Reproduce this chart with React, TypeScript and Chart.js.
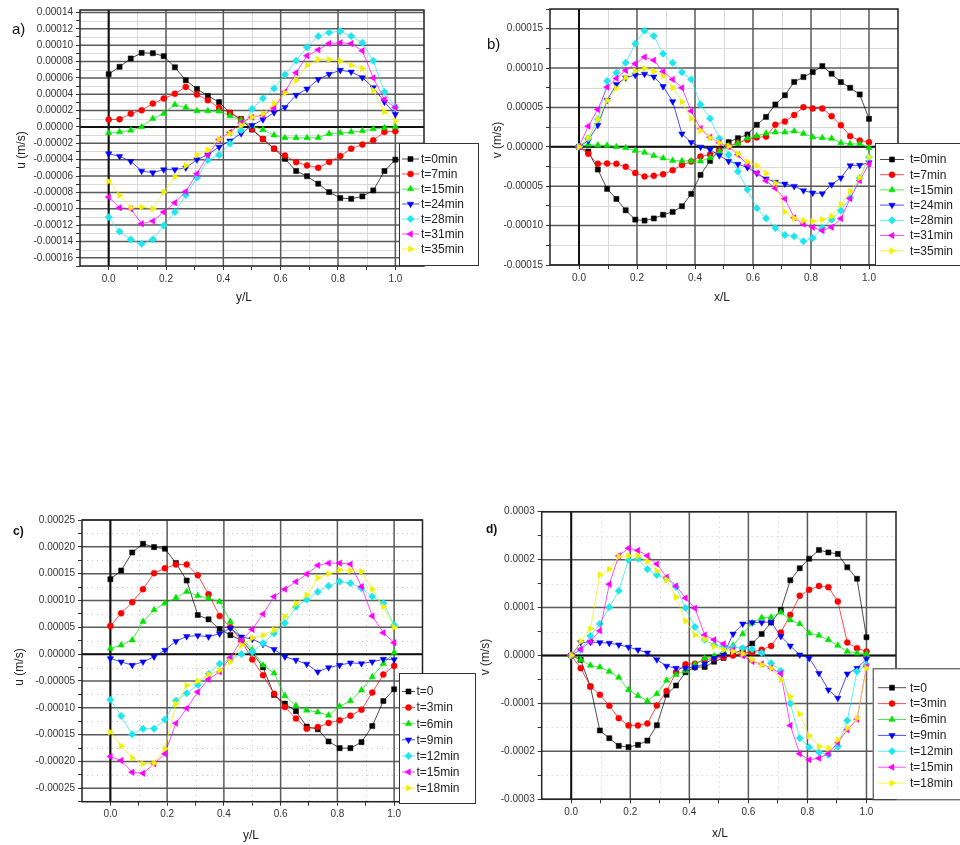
import React, { useEffect, useRef } from 'react';
import { Chart, registerables } from 'chart.js';

Chart.register(...registerables);

// All series values are in units of 1e-5 m/s
const UNIT = 1e-5;

// sample positions (x/L or y/L)
const X27 = [0, 0.038, 0.077, 0.115, 0.154, 0.192, 0.231, 0.269, 0.308, 0.346, 0.385, 0.423, 0.462, 0.5,
  0.538, 0.577, 0.615, 0.654, 0.692, 0.731, 0.769, 0.808, 0.846, 0.885, 0.923, 0.962, 1.0];
const X32 = [0, 0.032, 0.065, 0.097, 0.129, 0.161, 0.194, 0.226, 0.258, 0.29, 0.323, 0.355, 0.387, 0.419,
  0.452, 0.484, 0.516, 0.548, 0.581, 0.613, 0.645, 0.677, 0.71, 0.742, 0.774, 0.806, 0.839, 0.871, 0.903,
  0.935, 0.968, 1.0];

const AB_LABELS = ['t=0min', 't=7min', 't=15min', 't=24min', 't=28min', 't=31min', 't=35min'];
const CD_LABELS = ['t=0', 't=3min', 't=6min', 't=9min', 't=12min', 't=15min', 't=18min'];

// ---- panel a) u (m/s) vs y/L
const A_T0 = [6.45, 7.35, 8.37, 9.06, 9.02, 8.65, 7.3, 5.71, 4.65, 3.8, 3.04, 1.74, 0.98, -0.32, -1.47, -2.65, -3.9, -5.38, -6.02, -6.94, -7.96, -8.69, -8.78, -8.49, -7.76, -5.39, -4.0];
const A_T7 = [0.9, 0.94, 1.63, 2.04, 2.86, 3.47, 4.05, 4.9, 3.96, 3.27, 2.35, 1.72, 0.9, -0.24, -1.47, -2.65, -3.5, -4.3, -4.7, -5.0, -4.29, -3.55, -2.65, -2.16, -1.63, -0.61, -0.53];
const A_T15 = [-0.73, -0.61, -0.41, 0, 1.02, 1.63, 2.73, 2.37, 1.96, 1.96, 1.92, 1.35, 0.82, 0.1, -0.35, -1.0, -1.33, -1.33, -1.33, -1.31, -0.82, -0.73, -0.61, -0.49, -0.25, -0.1, 0];
const A_T24 = [-3.27, -3.59, -4.2, -5.39, -5.59, -5.22, -5.22, -5.0, -4.0, -3.4, -2.45, -1.7, -0.8, 0.2, 0.9, 1.75, 2.4, 3.9, 4.65, 5.82, 6.45, 6.94, 6.73, 6.04, 4.82, 3.06, 1.55];
const A_T28 = [-11.02, -12.78, -13.76, -14.29, -13.76, -12.04, -10.41, -8.33, -6.2, -4.05, -3.43, -2.04, -0.4, 2.2, 3.5, 4.7, 6.4, 8.1, 9.75, 11.1, 11.55, 11.71, 11.1, 10.29, 8.08, 4.29, 2.37];
const A_T31 = [-8.57, -9.88, -10.0, -11.84, -11.51, -10.41, -9.27, -7.9, -5.71, -3.47, -1.53, -0.65, 0.5, 1.2, 1.43, 2.3, 4.3, 6.63, 8.7, 9.43, 10.2, 10.29, 10.2, 9.31, 6.0, 3.35, 2.37];
const A_T35 = [-6.65, -8.37, -9.88, -9.8, -10.0, -7.96, -6.1, -4.74, -3.43, -2.8, -1.5, -0.8, 0.2, 1.2, 1.6, 2.86, 4.15, 5.7, 7.55, 8.24, 8.24, 8.08, 7.55, 7.14, 4.49, 1.84, 0.73];

// ---- panel b) v (m/s) vs x/L
const B_T0 = [0, -0.6, -2.88, -5.34, -6.61, -8.05, -9.24, -9.36, -9.09, -8.62, -8.26, -7.54, -5.97, -3.56, -1.78, -0.4, 0.6, 1.1, 1.57, 2.8, 3.8, 5.38, 6.55, 8.24, 8.86, 9.49, 10.25, 9.28, 8.22, 7.5, 6.65, 3.56];
const B_T7 = [0, -0.89, -2.16, -2.12, -2.16, -2.54, -3.31, -3.77, -3.68, -3.48, -2.97, -2.3, -1.87, -1.23, -0.97, -0.47, 0.08, 0.51, 0.9, 1.2, 1.3, 2.8, 3.22, 4.03, 5.04, 4.87, 4.87, 3.9, 2.75, 1.36, 0.8, 0.59];
const B_T15 = [0, 0.3, 0.21, 0.17, 0, -0.13, -0.47, -0.72, -1.12, -1.44, -1.74, -1.78, -1.78, -1.82, -1.4, -0.6, 0.1, 0.45, 1.1, 1.4, 1.72, 1.85, 1.85, 1.99, 1.69, 1.23, 1.14, 1.06, 0.51, 0.38, 0.38, -0.13];
const B_T24 = [0, 0.8, 2.75, 5.93, 7.92, 8.77, 9.11, 9.25, 8.9, 7.67, 5.76, 1.65, 0.57, -0.02, -0.34, -1.1, -1.82, -2.2, -2.62, -3.35, -4.05, -4.47, -4.7, -5.0, -5.55, -5.85, -5.93, -4.79, -3.94, -2.37, -2.33, -2.0];
const B_T28 = [0, 1.06, 3.47, 8.35, 9.4, 10.68, 13.09, 14.75, 14.07, 11.82, 10.68, 9.47, 8.56, 5.38, 3.6, 1.06, -1.0, -3.13, -5.42, -7.8, -9.07, -10.3, -11.2, -11.36, -11.99, -11.57, -10.3, -9.24, -8.1, -6.48, -3.94, -1.31];
const B_T31 = [0, 2.63, 4.75, 7.58, 8.69, 9.7, 10.55, 11.4, 11.0, 9.55, 8.56, 7.5, 4.53, 2.33, 1.23, 0.51, 0, -1.0, -2.25, -3.31, -4.3, -5.27, -6.6, -9.0, -9.8, -10.2, -10.64, -10.2, -9.11, -6.57, -4.28, -2.16];
const B_T35 = [0, 1.14, 3.47, 5.89, 7.42, 8.77, 9.62, 9.94, 9.58, 8.98, 7.5, 5.72, 3.6, 2.08, 1.14, 0.51, 0.08, -0.89, -1.9, -2.4, -3.37, -4.6, -8.26, -9.07, -9.36, -9.45, -9.24, -8.81, -7.33, -5.64, -3.94, -1.31];

// ---- panel c) u (m/s) vs y/L
const C_T0 = [13.97, 15.59, 18.95, 20.57, 19.95, 19.64, 17.0, 13.72, 7.29, 6.48, 4.68, 3.55, 2.6, 0.3, -2.45, -7.6, -9.23, -10.63, -13.5, -14.0, -16.27, -17.52, -17.52, -16.4, -13.4, -8.73, -6.55];
const C_T3 = [5.24, 7.61, 9.66, 12.1, 15.09, 16.0, 16.7, 16.7, 14.7, 11.16, 7.1, 5.0, 2.5, -1.0, -3.93, -7.4, -9.85, -12.0, -13.9, -13.6, -12.84, -12.34, -11.47, -10.35, -7.17, -3.8, -2.18];
const C_T6 = [1.06, 1.68, 2.62, 6.05, 8.23, 9.48, 10.5, 11.66, 10.88, 10.41, 9.79, 6.05, 3.0, 0.8, -2.06, -3.56, -7.76, -9.63, -10.47, -10.8, -11.4, -9.73, -8.73, -6.73, -4.24, -1.75, 0.31];
const C_T9 = [-0.81, -1.43, -2.06, -1.43, -0.5, 0.75, 2.4, 3.3, 3.45, 3.25, 3.8, 4.8, 3.2, 2.8, 1.85, 0.9, -0.5, -1.12, -1.85, -3.3, -2.5, -2.06, -1.62, -1.75, -1.43, -0.94, -1.0];
const C_T12 = [-8.48, -11.53, -14.96, -13.9, -13.9, -12.2, -8.66, -7.3, -5.73, -3.67, -1.8, -0.9, 0, 0.4, 2.06, 3.87, 5.8, 8.8, 10.16, 11.6, 12.72, 13.53, 13.22, 12.28, 10.72, 9.48, 5.42];
const C_T15 = [-19.08, -19.83, -22.0, -22.2, -20.45, -18.58, -12.88, -10.1, -7.05, -4.68, -3.3, -0.62, 2.62, 4.61, 7.48, 10.72, 12.1, 13.5, 14.93, 16.55, 16.96, 16.96, 16.77, 12.59, 7.1, 3.99, 2.12];
const C_T18 = [-14.53, -17.14, -19.33, -20.45, -20.32, -17.64, -9.3, -5.86, -5.0, -3.78, -3.0, -1.43, 1.68, 3.0, 3.5, 4.5, 7.0, 9.4, 11.03, 14.2, 14.96, 15.71, 15.59, 15.4, 12.1, 8.85, 4.99];

// ---- panel d) v (m/s) vs x/L
const D_T0 = [0, -0.9, -6.47, -15.65, -17.25, -18.85, -19.12, -18.64, -17.75, -14.55, -8.2, -6.26, -3.5, -2.45, -2.4, -1.3, -0.5, 0.3, 1.3, 2.5, 4.5, 6.9, 9.5, 15.7, 18.2, 20.2, 22.0, 21.5, 21.2, 18.4, 16.0, 3.82];
const D_T3 = [0, -2.64, -6.47, -8.2, -10.5, -13.07, -14.6, -14.6, -14.2, -10.45, -7.4, -3.5, -1.85, -1.7, -0.9, -0.6, -0.35, 0, 0.49, 0.7, 1.2, 2.0, 4.8, 8.48, 12.45, 13.7, 14.5, 14.26, 11.27, 2.71, 1.53, 0.83];
const D_T6 = [0, -0.9, -2.09, -2.43, -3.34, -4.59, -7.16, -8.41, -9.5, -8.0, -5.2, -4.0, -3.2, -1.85, -0.6, -0.1, 0.8, 2.1, 4.5, 6.8, 7.9, 8.0, 9.0, 7.4, 6.6, 4.66, 4.17, 3.27, 2.09, 0.83, 0.49, 0.35];
const D_T9 = [0, 2.71, 2.78, 2.71, 2.57, 2.23, 1.74, 1.18, 0.56, -0.87, -2.2, -2.64, -2.64, -2.43, -1.74, -0.56, 0.14, 4.5, 6.6, 6.88, 6.88, 7.0, 4.0, 2.0, 0.14, -0.56, -3.7, -7.16, -8.9, -3.82, -2.64, -0.76];
const D_T12 = [0, 1.18, 4.1, 6.6, 10.08, 13.49, 19.96, 20.2, 18.0, 16.8, 16.0, 14.3, 9.9, 5.95, 3.27, 2.2, 1.88, 1.74, 1.53, 1.32, 0.55, -1.6, -3.2, -10.0, -17.25, -19.12, -20.2, -20.72, -18.98, -13.56, -3.34, -1.95];
const D_T15 = [0, 1.32, 2.92, 5.15, 14.88, 20.8, 22.4, 21.9, 20.8, 19.1, 16.34, 14.5, 12.0, 9.87, 4.3, 3.27, 2.43, 1.18, -0.07, -1.25, -1.74, -2.64, -3.75, -14.6, -20.5, -21.77, -21.42, -20.5, -18.15, -15.5, -13.3, -2.3];
const D_T18 = [0, 2.92, 5.56, 16.8, 18.0, 20.65, 20.8, 20.8, 19.6, 17.7, 15.8, 12.2, 7.2, 4.3, 3.4, 1.88, 1.18, 0.83, 0.35, -0.9, -1.95, -2.64, -5.0, -8.55, -12.2, -16.76, -18.98, -19.33, -17.6, -15.2, -13.1, -2.64];

// tick labels
const X_TICKS = [0, 0.2, 0.4, 0.6, 0.8, 1.0];
const A_YTICKS = [-0.00016, -0.00014, -0.00012, -0.0001, -0.00008, -0.00006, -0.00004, -0.00002, 0, 0.00002, 0.00004, 0.00006, 0.00008, 0.0001, 0.00012, 0.00014];
const B_YTICKS = [-0.00015, -0.0001, -0.00005, 0, 0.00005, 0.0001, 0.00015];
const C_YTICKS = [-0.00025, -0.0002, -0.00015, -0.0001, -0.00005, 0, 0.00005, 0.0001, 0.00015, 0.0002, 0.00025];
const D_YTICKS = [-0.0003, -0.0002, -0.0001, 0, 0.0001, 0.0002, 0.0003];

const COLORS = ['#000000', '#ff0000', '#00e400', '#0000ff', '#1ee6ee', '#ff00ff', '#f0f000'];
const MARKERS = [
  { style: 'rect', rot: 0, r: 3.6 },
  { style: 'circle', rot: 0, r: 3.0 },
  { style: 'triangle', rot: 0, r: 3.7 },
  { style: 'triangle', rot: 180, r: 3.7 },
  { style: 'rectRot', rot: 0, r: 3.7 },
  { style: 'triangle', rot: 270, r: 3.7 },
  { style: 'triangle', rot: 90, r: 3.7 },
];

const FONT = '"Liberation Sans", Arial, sans-serif';

function midpoints(arr: number[], extraLow?: number, extraHigh?: number) {
  const out: number[] = [];
  for (let i = 0; i < arr.length - 1; i++) out.push((arr[i] + arr[i + 1]) / 2);
  const step = arr[1] - arr[0];
  if (extraLow !== undefined && arr[0] - step / 2 >= extraLow - 1e-12) out.unshift(arr[0] - step / 2);
  if (extraHigh !== undefined && arr[arr.length - 1] + step / 2 <= extraHigh + 1e-12) out.push(arr[arr.length - 1] + step / 2);
  return out;
}

function rgba(hex: string, a: number) {
  const n = parseInt(hex.slice(1), 16);
  return `rgba(${(n >> 16) & 255},${(n >> 8) & 255},${n & 255},${a})`;
}

function drawMarker(ctx: CanvasRenderingContext2D, style: string, rotDeg: number, x: number, y: number, r: number, color: string) {
  ctx.save();
  ctx.fillStyle = color;
  ctx.strokeStyle = color;
  ctx.lineWidth = 0.5;
  ctx.beginPath();
  if (style === 'circle') {
    ctx.arc(x, y, r, 0, Math.PI * 2);
  } else if (style === 'rect') {
    const s = Math.SQRT1_2 * r;
    ctx.rect(x - s, y - s, 2 * s, 2 * s);
  } else if (style === 'rectRot') {
    ctx.moveTo(x, y - r);
    ctx.lineTo(x + r, y);
    ctx.lineTo(x, y + r);
    ctx.lineTo(x - r, y);
    ctx.closePath();
  } else {
    let rad = (rotDeg * Math.PI) / 180;
    ctx.moveTo(x + Math.sin(rad) * r, y - Math.cos(rad) * r);
    rad += (2 * Math.PI) / 3;
    ctx.lineTo(x + Math.sin(rad) * r, y - Math.cos(rad) * r);
    rad += (2 * Math.PI) / 3;
    ctx.lineTo(x + Math.sin(rad) * r, y - Math.cos(rad) * r);
    ctx.closePath();
  }
  ctx.fill();
  ctx.stroke();
  ctx.restore();
}

type PanelCfg = {
  canvas: { x: number; y: number; w: number; h: number };
  area: { l: number; r: number; t: number; b: number };
  xs: number[];
  series: number[][];
  labels: string[];
  yMin: number; yMax: number;
  yTicks: number[];
  yDec: number;
  dottedMinor: boolean;
  tag: { text: string; x: number; y: number; font: string };
  yTitle: { text: string; x: number; y: number };
  xTitle: { text: string; x: number; y: number };
  legend: { x: number; y: number; w: number; h: number; row0: number; dy: number; s0: number; s1: number; tx: number };
};

const PANELS: PanelCfg[] = [
  {
    canvas: { x: 0, y: 0, w: 480, h: 310 },
    area: { l: 80, r: 424, t: 10, b: 266 },
    xs: X27,
    series: [A_T0, A_T7, A_T15, A_T24, A_T28, A_T31, A_T35],
    labels: AB_LABELS,
    yMin: -0.00017, yMax: 0.000143,
    yTicks: A_YTICKS, yDec: 5, dottedMinor: false,
    tag: { text: 'a)', x: 12, y: 30, font: `15px ${FONT}` },
    yTitle: { text: 'u (m/s)', x: 22, y: 150 },
    xTitle: { text: 'y/L', x: 244, y: 298 },
    legend: { x: 399, y: 143, w: 79, h: 122, row0: 159, dy: 15, s0: 402, s1: 419, tx: 421 },
  },
  {
    canvas: { x: 480, y: 0, w: 480, h: 310 },
    area: { l: 550, r: 898, t: 8, b: 265 },
    xs: X32,
    series: [B_T0, B_T7, B_T15, B_T24, B_T28, B_T31, B_T35],
    labels: AB_LABELS,
    yMin: -0.00015, yMax: 0.000175,
    yTicks: B_YTICKS, yDec: 5, dottedMinor: false,
    tag: { text: 'b)', x: 487, y: 45, font: `15px ${FONT}` },
    yTitle: { text: 'v (m/s)', x: 498, y: 140 },
    xTitle: { text: 'x/L', x: 722, y: 298 },
    legend: { x: 875, y: 143, w: 95, h: 122, row0: 159.5, dy: 15.2, s0: 880, s1: 904, tx: 910 },
  },
  {
    canvas: { x: 0, y: 480, w: 480, h: 365 },
    area: { l: 82, r: 422.5, t: 520, b: 801.7 },
    xs: X27,
    series: [C_T0, C_T3, C_T6, C_T9, C_T12, C_T15, C_T18],
    labels: CD_LABELS,
    yMin: -0.000275, yMax: 0.00025,
    yTicks: C_YTICKS, yDec: 5, dottedMinor: true,
    tag: { text: 'c)', x: 13, y: 532, font: `bold 12px ${FONT}` },
    yTitle: { text: 'u (m/s)', x: 20, y: 667 },
    xTitle: { text: 'y/L', x: 251, y: 836 },
    legend: { x: 399, y: 673, w: 76, h: 130, row0: 691.5, dy: 16.1, s0: 402, s1: 415, tx: 416.5 },
  },
  {
    canvas: { x: 475, y: 480, w: 485, h: 365 },
    area: { l: 541.7, r: 896, t: 511.7, b: 799.3 },
    xs: X32,
    series: [D_T0, D_T3, D_T6, D_T9, D_T12, D_T15, D_T18],
    labels: CD_LABELS,
    yMin: -0.0003, yMax: 0.0003,
    yTicks: D_YTICKS, yDec: 4, dottedMinor: true,
    tag: { text: 'd)', x: 486, y: 530, font: `bold 12px ${FONT}` },
    yTitle: { text: 'v (m/s)', x: 486, y: 657 },
    xTitle: { text: 'x/L', x: 720, y: 834 },
    legend: { x: 872.7, y: 668.3, w: 95, h: 131, row0: 687.7, dy: 15.9, s0: 878, s1: 906, tx: 910 },
  },
];

function Panel({ cfg }: { cfg: PanelCfg }) {
  const ref = useRef<HTMLCanvasElement>(null);
  useEffect(() => {
    const c = cfg;
    const { w: W, h: H, x: ox, y: oy } = c.canvas;
    const aL = c.area.l - ox, aR = c.area.r - ox, aT = c.area.t - oy, aB = c.area.b - oy;
    const xMinor = midpoints(X_TICKS);
    const yMinor = midpoints(c.yTicks, c.yMin, c.yMax);
    const xTickObjs = [...X_TICKS.map(v => ({ value: v, isMajor: true })), ...xMinor.map(v => ({ value: v, isMajor: false }))].sort((p, q) => p.value - q.value);
    const yTickObjs = [...c.yTicks.map(v => ({ value: v, isMajor: true })), ...yMinor.map(v => ({ value: v, isMajor: false }))].sort((p, q) => p.value - q.value);

    const datasets = c.series.map((vals, k) => ({
      label: c.labels[k],
      data: vals.map((v, i) => ({ x: c.xs[i], y: v * UNIT })),
      borderColor: rgba(COLORS[k], 0.7),
      borderWidth: 1,
      backgroundColor: COLORS[k],
      pointBackgroundColor: COLORS[k],
      pointBorderColor: COLORS[k],
      pointBorderWidth: 0.5,
      pointStyle: MARKERS[k].style as any,
      pointRotation: MARKERS[k].rot,
      pointRadius: MARKERS[k].r,
      pointHoverRadius: MARKERS[k].r,
      showLine: true,
      tension: 0,
      order: 6 - k,
    }));

    const decor = {
      id: 'decor',
      beforeDatasetsDraw(chart: any) {
        const ctx = chart.ctx as CanvasRenderingContext2D;
        const xs = chart.scales.x, ys = chart.scales.y;
        const { left, right, top, bottom } = chart.chartArea;
        ctx.save();
        // minor grid
        ctx.strokeStyle = c.dottedMinor ? '#c8c8c8' : '#dadada';
        ctx.lineWidth = 1;
        ctx.setLineDash(c.dottedMinor ? [1, 4] : []);
        for (const v of xMinor) {
          const px = Math.round(xs.getPixelForValue(v)) + 0.5;
          ctx.beginPath(); ctx.moveTo(px, top); ctx.lineTo(px, bottom); ctx.stroke();
        }
        for (const v of yMinor) {
          const py = Math.round(ys.getPixelForValue(v)) + 0.5;
          ctx.beginPath(); ctx.moveTo(left, py); ctx.lineTo(right, py); ctx.stroke();
        }
        ctx.setLineDash([]);
        // major grid
        ctx.strokeStyle = '#5a5a5a';
        ctx.lineWidth = 1.5;
        for (const v of X_TICKS) {
          const px = xs.getPixelForValue(v);
          ctx.beginPath(); ctx.moveTo(px, top); ctx.lineTo(px, bottom); ctx.stroke();
        }
        for (const v of c.yTicks) {
          const py = ys.getPixelForValue(v);
          ctx.beginPath(); ctx.moveTo(left, py); ctx.lineTo(right, py); ctx.stroke();
        }
        // zero lines
        ctx.strokeStyle = '#111';
        ctx.lineWidth = 2;
        const x0 = xs.getPixelForValue(0), y0 = ys.getPixelForValue(0);
        ctx.beginPath(); ctx.moveTo(x0, top); ctx.lineTo(x0, bottom); ctx.stroke();
        ctx.beginPath(); ctx.moveTo(left, y0); ctx.lineTo(right, y0); ctx.stroke();
        // frame
        ctx.strokeStyle = '#222';
        ctx.lineWidth = 1.5;
        ctx.strokeRect(left, top, right - left, bottom - top);
        ctx.restore();
      },
      afterDraw(chart: any) {
        const ctx = chart.ctx as CanvasRenderingContext2D;
        ctx.save();
        // legend box
        const L = c.legend;
        ctx.fillStyle = '#fff';
        ctx.fillRect(L.x - ox, L.y - oy, L.w, L.h);
        ctx.strokeStyle = '#333';
        ctx.lineWidth = 1;
        ctx.strokeRect(L.x - ox + 0.5, L.y - oy + 0.5, L.w, L.h);
        ctx.font = `12px ${FONT}`;
        ctx.textBaseline = 'middle';
        ctx.textAlign = 'left';
        c.labels.forEach((lab, k) => {
          const yy = L.row0 - oy + k * L.dy;
          ctx.strokeStyle = rgba(COLORS[k], 0.7);
          ctx.lineWidth = 1;
          ctx.beginPath(); ctx.moveTo(L.s0 - ox, yy); ctx.lineTo(L.s1 - ox, yy); ctx.stroke();
          drawMarker(ctx, MARKERS[k].style, MARKERS[k].rot, (L.s0 + L.s1) / 2 - ox, yy, MARKERS[k].r, COLORS[k]);
          ctx.fillStyle = '#222';
          ctx.fillText(lab, L.tx - ox, yy + 0.5);
        });
        // panel tag
        ctx.fillStyle = '#111';
        ctx.font = c.tag.font;
        ctx.textAlign = 'left';
        ctx.fillText(c.tag.text, c.tag.x - ox, c.tag.y - oy);
        // axis titles
        ctx.font = `12px ${FONT}`;
        ctx.fillStyle = '#222';
        ctx.textAlign = 'center';
        ctx.fillText(c.xTitle.text, c.xTitle.x - ox, c.xTitle.y - oy);
        ctx.translate(c.yTitle.x - ox, c.yTitle.y - oy);
        ctx.rotate(-Math.PI / 2);
        ctx.fillText(c.yTitle.text, 0, 0);
        ctx.restore();
      },
    };

    const tickFont = { family: FONT, size: 10 };
    const chart = new Chart(ref.current as HTMLCanvasElement, {
      type: 'scatter',
      data: { datasets: datasets as any },
      options: {
        animation: false,
        responsive: false,
        devicePixelRatio: 1,
        events: [],
        layout: { padding: { left: 0, top: aT, right: W - aR, bottom: 0 } },
        plugins: { legend: { display: false }, tooltip: { enabled: false } },
        scales: {
          x: {
            type: 'linear', min: -0.1, max: 1.1,
            afterBuildTicks: (s: any) => { s.ticks = xTickObjs.map(t => ({ ...t })); },
            afterFit: (s: any) => { s.height = H - aB; },
            grid: { drawOnChartArea: false, drawTicks: true, tickLength: 4, color: '#333', tickColor: '#333' },
            border: { display: false },
            ticks: {
              autoSkip: false, maxRotation: 0, padding: 3, font: tickFont, color: '#333',
              callback: (v: any, i: number, ticks: any[]) => (ticks[i] && ticks[i].isMajor ? Number(v).toFixed(1) : ''),
            },
          },
          y: {
            type: 'linear', min: c.yMin, max: c.yMax,
            afterBuildTicks: (s: any) => { s.ticks = yTickObjs.map(t => ({ ...t })); },
            afterFit: (s: any) => { s.width = aL; },
            grid: { drawOnChartArea: false, drawTicks: true, tickLength: 4, color: '#333', tickColor: '#333' },
            border: { display: false },
            ticks: {
              autoSkip: false, padding: 3, font: tickFont, color: '#333',
              callback: (v: any, i: number, ticks: any[]) => (ticks[i] && ticks[i].isMajor ? Number(v).toFixed(c.yDec) : ''),
            },
          },
        },
      },
      plugins: [decor],
    } as any);
    return () => chart.destroy();
  }, [cfg]);
  return (
    <canvas
      ref={ref}
      width={cfg.canvas.w}
      height={cfg.canvas.h}
      style={{ position: 'absolute', left: cfg.canvas.x, top: cfg.canvas.y, width: cfg.canvas.w, height: cfg.canvas.h }}
    />
  );
}

export default function App() {
  return (
    <div style={{ position: 'fixed', left: 0, top: 0, width: 960, height: 845, background: '#fff', overflow: 'hidden' }}>
      {PANELS.map((p, i) => <Panel key={i} cfg={p} />)}
    </div>
  );
}
